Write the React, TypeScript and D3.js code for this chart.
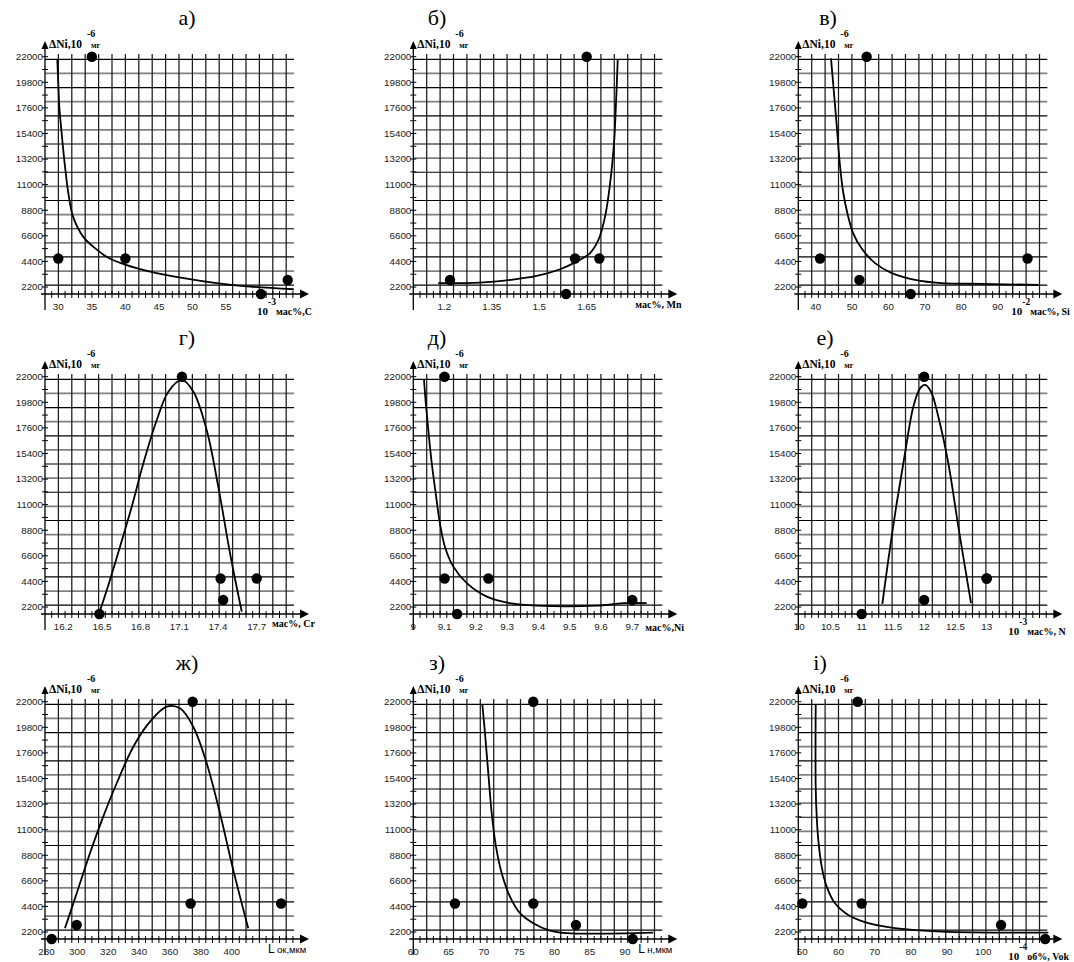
import React, { useEffect, useRef } from "react";
import * as d3 from "d3";

// ΔNi, 10^-6 мг, of the five samples (same order in every panel)
const dNi = [22000, 4650, 4650, 2800, 1600];

const yTicks = [2200, 4400, 6600, 8800, 11000, 13200, 15400, 17600, 19800, 22000];

// position of every sample on each panel's x axis
const xC = [35, 30, 40, 64.2, 60.2];
const xMn = [1.65, 1.613, 1.69, 1.218, 1.585];
const xSi = [54, 41.2, 98.2, 52, 66.1];
const xCr = [17.12, 17.42, 17.7, 17.44, 16.48];
const xNi = [9.1, 9.1, 9.24, 9.7, 9.14];
const xN = [12, 13, 13, 12, 11];
const xLok = [374.7, 373.4, 432, 299.6, 283.4];
const xLn = [77, 65.9, 77, 83.05, 91.1];
const xVok = [65.3, 50, 66.4, 104.9, 117.1];

// x tick labels
const ticksC = [30, 35, 40, 45, 50, 55];
const ticksMn = [1.2, 1.35, 1.5, 1.65];
const ticksSi = [40, 50, 60, 70, 80, 90];
const ticksCr = [16.2, 16.5, 16.8, 17.1, 17.4, 17.7];
const ticksNi = [9, 9.1, 9.2, 9.3, 9.4, 9.5, 9.6, 9.7];
const ticksN = [10, 10.5, 11, 11.5, 12, 12.5, 13];
const ticksLok = [280, 300, 320, 340, 360, 380, 400];
const ticksLn = [60, 65, 70, 75, 80, 85, 90];
const ticksVok = [50, 60, 70, 80, 90, 100];

// fitted curves, [x, ΔNi]
const curveC = [[29.85, 21780], [30.0, 19710], [30.15, 17700], [30.5, 15420], [31.0, 12550], [31.5, 10260], [32.2, 8250], [33.7, 6530], [35.2, 5670], [37.2, 4810], [40.1, 4100], [43.7, 3520], [48.7, 2960], [53.6, 2530], [58.6, 2230], [65.1, 2010]];
const curveMn = [[1.181, 2530], [1.313, 2580], [1.408, 2810], [1.492, 3150], [1.566, 3730], [1.618, 4380], [1.66, 5100], [1.687, 6250], [1.708, 8250], [1.724, 11120], [1.737, 14840], [1.743, 18280], [1.748, 21720]];
const curveSi = [[44.2, 21860], [44.95, 19140], [45.8, 15980], [46.7, 12550], [47.6, 10260], [48.7, 8540], [50.3, 6820], [52.6, 5530], [56.3, 4250], [60.9, 3390], [67.3, 2810], [74.6, 2530], [85.6, 2470], [101.2, 2380]];
const curveCr = [[16.485, 1890], [16.562, 4530], [16.64, 7390], [16.731, 10830], [16.821, 14560], [16.925, 18280], [17.015, 20710], [17.119, 21720], [17.209, 20710], [17.312, 17420], [17.402, 12550], [17.493, 6820], [17.584, 1800]];
const curveNi = [[9.034, 21780], [9.04, 19710], [9.048, 17420], [9.059, 14560], [9.073, 11690], [9.085, 9400], [9.101, 7390], [9.128, 5670], [9.171, 4250], [9.235, 3090], [9.309, 2530], [9.394, 2320], [9.586, 2320], [9.671, 2530], [9.746, 2530]];
const curveN = [[11.33, 2470], [11.426, 6250], [11.56, 11120], [11.693, 15420], [11.826, 19420], [11.933, 21000], [12.013, 21290], [12.109, 20710], [12.226, 18560], [12.386, 14560], [12.546, 9110], [12.749, 2530]];
const curveLok = [[292, 2530], [299.6, 5530], [308.2, 8970], [316.8, 12120], [325.5, 14990], [336.3, 18130], [347.1, 20280], [357.9, 21570], [366.5, 21430], [375.1, 19850], [383.8, 16710], [392.4, 12410], [401, 7540], [410.7, 2530]];
const curveLn = [[69.78, 21800], [70.16, 19280], [70.63, 15850], [71.11, 12410], [71.72, 9540], [72.53, 7250], [73.7, 5240], [75.12, 3820], [77, 2960], [79.37, 2320], [81.74, 2100], [94.01, 2150]];
const curveVok = [[53.7, 21720], [53.7, 14700], [53.98, 12120], [54.42, 10120], [55.36, 7820], [56.74, 6100], [59.03, 4670], [62.71, 3670], [68.23, 2960], [75.61, 2530], [88.51, 2230], [117.96, 2150]];

// scale anchors: two x values and where they sit, measured from the y axis
const panels = [
  { title: "а)", tx: 187, xs: xC, ticks: ticksC, curve: curveC, dom: [30, 55], rng: [13.3, 181], pow: "-3", unit: "мас%,С", ux: 212 },
  { title: "б)", tx: 437, xs: xMn, ticks: ticksMn, curve: curveMn, dom: [1.2, 1.65], rng: [31, 173.4], unit: "мас%, Mn", ux: 222, ub: 308 },
  { title: "в)", tx: 828, xs: xSi, ticks: ticksSi, curve: curveSi, dom: [40, 90], rng: [17.4, 199.4], pow: "-2", unit: "мас%, Si", ux: 213 },
  { title: "г)", tx: 187, xs: xCr, ticks: ticksCr, curve: curveCr, dom: [16.2, 17.7], rng: [18.3, 211.7], unit: "мас%, Cr", ux: 227, ub: 307 },
  { title: "д)", tx: 437, xs: xNi, ticks: ticksNi, curve: curveNi, dom: [9, 9.7], rng: [0, 219], unit: "мас%,Ni", ux: 232, ub: 311 },
  { title: "е)", tx: 825, xs: xN, ticks: ticksN, curve: curveN, dom: [11, 13], rng: [63.4, 188.4], pow: "-3", unit: "мас%, N", ux: 210 },
  { title: "ж)", tx: 187, xs: xLok, ticks: ticksLok, curve: curveLok, dom: [300, 400], rng: [32.3, 186.7], L: "ок,мкм", ux: 223 },
  { title: "з)", tx: 437, xs: xLn, ticks: ticksLn, curve: curveLn, dom: [60, 90], rng: [0, 211.7], L: "н,мкм", ux: 225 },
  { title: "і)", tx: 820, xs: xVok, ticks: ticksVok, curve: curveVok, dom: [50, 100], rng: [4, 185], pow: "-4", unit: "об%, Vok", ux: 210 },
];

const colX = [45, 413.3, 798.3];
const rowY = [0, 320, 645];
const SERIF = "'Liberation Serif', 'Times New Roman', serif";
const SANS = "'Liberation Sans', Arial, sans-serif";

export default function App() {
  const ref = useRef<SVGSVGElement>(null);

  useEffect(() => {
    const svg = d3.select(ref.current);
    svg.selectAll("*").remove();

    panels.forEach((p: any, i) => {
      const ox = colX[i % 3];
      const oy = rowY[Math.floor(i / 3)];
      const g = svg.append("g");

      const x = d3.scaleLinear().domain(p.dom).range([ox + p.rng[0], ox + p.rng[1]]);
      const y = d3.scaleLinear().domain([1600, 22000]).range([oy + 294, oy + 56.7]);
      const gy = d3.scaleLinear().domain([0, 16]).range([oy + 59.3, oy + 285.2]);
      const gx = d3.scaleLinear().domain([0, 18]).range([ox, ox + 241.2]);

      // grid
      g.selectAll(".hg")
        .data(d3.range(17))
        .join("line")
        .attr("class", "hg")
        .attr("x1", ox)
        .attr("x2", ox + 249)
        .attr("y1", (k) => gy(k))
        .attr("y2", (k) => gy(k))
        .attr("stroke", (k) => (k % 2 ? "#808080" : "#000"))
        .attr("stroke-width", (k) => (k % 2 ? 1.6 : 1.2));

      g.selectAll(".vg")
        .data(d3.range(1, 19))
        .join("line")
        .attr("class", "vg")
        .attr("x1", (k) => gx(k))
        .attr("x2", (k) => gx(k))
        .attr("y1", oy + 54)
        .attr("y2", oy + 294)
        .attr("stroke", "#1a1a1a")
        .attr("stroke-width", 1.25);

      // axes
      g.append("line")
        .attr("x1", ox).attr("x2", ox)
        .attr("y1", oy + 46).attr("y2", oy + 310)
        .attr("stroke", "#000").attr("stroke-width", 1.3);
      g.append("path")
        .attr("d", `M${ox - 3.5},${oy + 49}L${ox},${oy + 41}L${ox + 3.5},${oy + 49}Z`)
        .attr("fill", "#000");
      g.append("line")
        .attr("x1", ox - 4).attr("x2", ox + 257)
        .attr("y1", oy + 294).attr("y2", oy + 294)
        .attr("stroke", "#000").attr("stroke-width", 1.3);
      g.append("path")
        .attr("d", `M${ox + 255},${oy + 289.5}L${ox + 264},${oy + 294}L${ox + 255},${oy + 298.5}Z`)
        .attr("fill", "#000");

      g.selectAll(".xt")
        .data(d3.range(1, 38))
        .join("line")
        .attr("class", "xt")
        .attr("x1", (k) => ox + k * 6.7)
        .attr("x2", (k) => ox + k * 6.7)
        .attr("y1", oy + 291)
        .attr("y2", oy + 298)
        .attr("stroke", "#000");

      g.selectAll(".yt")
        .data(d3.range(2200, 22001, 1100))
        .join("line")
        .attr("class", "yt")
        .attr("x1", ox - 3)
        .attr("x2", ox + 3)
        .attr("y1", (v) => y(v))
        .attr("y2", (v) => y(v))
        .attr("stroke", "#000");

      // tick labels
      g.selectAll(".yl")
        .data(yTicks)
        .join("text")
        .attr("class", "yl")
        .attr("x", ox - 2)
        .attr("y", (v) => y(v))
        .attr("dy", "0.35em")
        .attr("text-anchor", "end")
        .attr("font-family", SANS)
        .attr("font-size", 9.8)
        .attr("fill", "#222")
        .text((v) => v);

      g.selectAll(".xl")
        .data(p.ticks)
        .join("text")
        .attr("class", "xl")
        .attr("x", (v: number) => x(v))
        .attr("y", oy + 309.5)
        .attr("text-anchor", "middle")
        .attr("font-family", SANS)
        .attr("font-size", 9.8)
        .attr("fill", "#222")
        .text((v: number) => v);

      // curve and points
      const line = d3
        .line<number[]>()
        .x((d) => x(d[0]))
        .y((d) => y(d[1]))
        .curve(d3.curveCatmullRom.alpha(0.5));
      g.append("path")
        .attr("d", line(p.curve))
        .attr("fill", "none")
        .attr("stroke", "#000")
        .attr("stroke-width", 1.8);

      g.selectAll(".pt")
        .data(p.xs.map((v: number, j: number) => [v, dNi[j]]))
        .join("circle")
        .attr("class", "pt")
        .attr("cx", (d: number[]) => x(d[0]))
        .attr("cy", (d: number[]) => y(d[1]))
        .attr("r", 5.2)
        .attr("fill", "#000");

      // title
      g.append("text")
        .attr("x", p.tx)
        .attr("y", oy + 25)
        .attr("text-anchor", "middle")
        .attr("font-family", SERIF)
        .attr("font-size", 22)
        .text(p.title);

      // y axis name
      const yn = g.append("g").attr("font-family", SERIF).attr("font-weight", "bold");
      yn.append("text").attr("x", ox + 4).attr("y", oy + 48).attr("font-size", 11.5).text("ΔNi,10");
      yn.append("text").attr("x", ox + 42).attr("y", oy + 37).attr("font-size", 10).text("-6");
      yn.append("text").attr("x", ox + 46).attr("y", oy + 47.5).attr("font-size", 8).text("мг");

      // x axis name
      const xn = g.append("g").attr("font-family", SERIF).attr("font-weight", "bold");
      if (p.pow) {
        xn.append("text").attr("x", ox + p.ux).attr("y", oy + 315).attr("font-size", 11).text("10");
        xn.append("text").attr("x", ox + p.ux + 11).attr("y", oy + 305).attr("font-size", 9.5).text(p.pow);
        xn.append("text").attr("x", ox + p.ux + 19).attr("y", oy + 315).attr("font-size", 10).text(p.unit);
      } else if (p.L) {
        xn.append("text").attr("x", ox + p.ux).attr("y", oy + 308).attr("font-family", SANS)
          .attr("font-weight", "normal").attr("font-size", 12).text("L");
        xn.append("text").attr("x", ox + p.ux + 9).attr("y", oy + 308).attr("font-family", SANS)
          .attr("font-weight", "normal").attr("font-size", 9.5).text(p.L);
      } else {
        xn.append("text").attr("x", ox + p.ux).attr("y", oy + p.ub).attr("font-size", 10).text(p.unit);
      }
    });
  }, []);

  return (
    <svg
      ref={ref}
      width={1074}
      height={962}
      style={{ position: "absolute", left: 0, top: 0, background: "#fff" }}
    />
  );
}
